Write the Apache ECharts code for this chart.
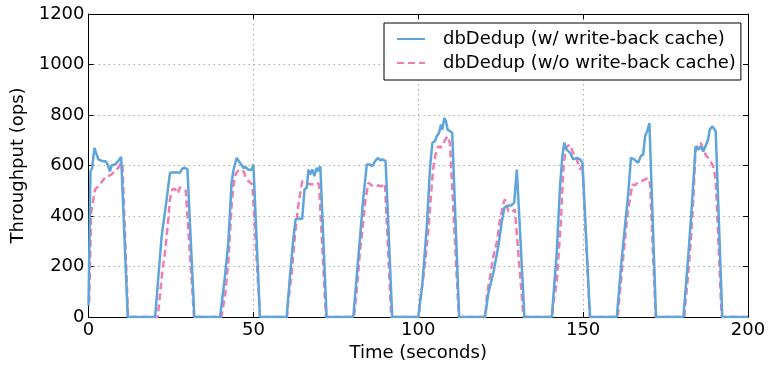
<!DOCTYPE html>
<html>
	<head>
		<title>dbDedup throughput</title>
		<meta charset="utf-8"/>
		<style type="text/css">
			*{margin: 0;padding: 0;}
			html,body{
				width: 771px;
				height: 367px;
				background-color: #fff;
			}
			.chart{
				width: 771px;
				height: 367px;
			}
		</style>
		<script type="text/javascript" src="https://cdn.jsdelivr.net/npm/echarts@6/dist/echarts.min.js"></script>
	</head>
	<body>
		<div class="chart js-chart"></div>
		<script type="text/javascript">
			// 读出来的数据 (秒, ops)
			var blueTime=[0,0.6,1.1,1.8,2.3,3.0,4.2,5.2,5.8,6.5,7.0,8.0,9.0,9.9,10.2,11.9,
				20.2,22.2,22.7,23.7,24.7,25.2,26.2,27.7,28.4,29.2,30.0,32.1,
				39.9,41.4,42.4,43.4,43.9,44.9,45.4,46.5,47.0,47.7,48.5,49.5,50.0,50.3,52.0,
				60.1,61.1,62.1,62.8,63.6,64.8,65.5,66.2,66.7,67.2,67.9,68.5,69.2,69.7,70.3,72.2,
				80.3,82.3,83.3,84.4,85.4,86.1,86.9,87.7,88.4,89.1,90.1,92.1,
				100.0,101.2,102.6,103.6,104.3,105.1,105.6,106.3,106.9,107.3,107.9,108.4,108.9,109.6,110.3,112.4,
				120.2,121.3,122.8,124.3,125.3,126.1,127.1,128.3,129.1,129.9,130.2,132.2,
				140.5,142.0,143.0,143.7,144.3,145.0,146.1,147.0,148.1,149.1,149.8,152.1,
				160.2,161.7,162.9,163.7,164.5,165.5,166.7,167.5,168.2,168.8,169.6,170.1,172.1,
				180.4,181.9,183.1,184.1,184.9,185.7,186.4,187.1,187.9,188.4,189.2,189.8,190.2,192.2,
				200];
			var blueOps=[45,577,590,670,650,624,617,617,604,577,600,604,617,634,630,0,
				0,321,325,466,571,577,573,571,587,591,585,0,
				0,163,295,532,577,630,625,600,590,594,583,583,604,597,0,
				0,163,308,387,389,389,505,513,584,564,584,558,591,577,597,0,
				0,308,466,604,604,597,617,630,621,624,617,0,
				0,124,360,597,690,697,716,729,762,742,788,776,742,736,730,0,
				0,97,176,281,374,433,441,443,453,584,590,0,
				0,255,518,637,690,663,650,624,630,624,611,0,
				0,229,387,492,630,624,611,637,643,716,742,768,0,
				0,242,466,676,663,676,656,676,703,742,755,755,736,0,
				0];
			var pinkTime=[0.2,0.8,1.5,2.0,3.0,4.2,5.2,6.0,7.0,8.0,9.0,9.9,10.3,12.0,
				21.0,22.4,23.2,24.2,24.7,25.4,26.2,27.05,27.7,28.7,29.5,32.0,
				40.3,41.4,42.4,43.4,43.9,44.6,45.6,47.0,48.0,49.0,49.7,52.0,
				60.2,60.6,61.6,62.6,63.6,64.4,64.8,65.8,67.2,68.2,69.2,69.9,72.0,
				80.5,81.3,82.3,83.3,84.0,84.9,85.9,86.9,87.9,88.9,89.9,91.8,
				100.2,100.5,102.0,103.0,104.0,104.5,105.2,106.0,106.7,107.5,108.2,108.8,109.6,112.3,
				120.4,120.8,121.8,122.8,123.8,124.8,125.9,126.3,127.3,128.3,129.3,131.9,
				140.7,140.9,142.0,142.6,143.3,144.0,144.7,146.0,147.0,148.1,149.1,149.8,152.0,
				160.5,160.7,161.7,162.5,163.5,164.2,164.9,165.7,166.7,167.7,168.8,169.6,170.3,172.0,
				180.7,180.9,181.9,182.7,183.4,184.1,184.9,185.7,186.4,187.4,188.4,189.4,190.2,192.0,
				200];
			var pinkOps=[60,414,466,505,518,538,556,558,565,577,591,611,600,0,
				0,183,256,387,466,505,508,489,513,507,500,0,
				0,84,216,440,518,565,583,577,545,532,526,0,
				0,65,171,321,440,505,538,532,526,526,532,526,0,
				0,98,255,374,466,532,521,516,521,518,529,0,
				0,59,203,334,505,584,643,676,670,683,703,716,690,0,
				0,84,163,242,295,387,453,466,420,414,426,0,
				0,50,137,255,387,584,670,683,650,624,584,600,0,
				0,32,176,281,413,466,525,521,534,538,545,551,530,0,
				0,40,176,308,466,663,683,690,663,637,624,597,545,0,
				0];
			var seriesNames=["dbDedup (w/ write-back cache)","dbDedup (w/o write-back cache)"];

			function pairs(t,v){
				var out=[];
				for(var i=0;i<t.length;i++){
					out.push([t[i],v[i]]);
				}
				return out;
			}

			var font="DejaVu Sans";
			var gridLine={show:true,lineStyle:{color:"#aaa",width:1,type:[1.5,3.5]}};
			var tick={show:true,inside:true,length:5,lineStyle:{color:"#000"}};
			var line={show:true,onZero:false,lineStyle:{color:"#000",width:1}};
			var plain=function(v){return String(v);};

			var chart=echarts.init(document.querySelector(".js-chart"));
			chart.setOption({
				animation:false,
				textStyle:{fontFamily:font},
				grid:{left:88.5,right:23,top:14,bottom:49},
				legend:{
					orient:"vertical",
					left:384,
					top:23,
					padding:[6,5,7,12],
					itemWidth:28,
					itemHeight:14,
					itemGap:4,
					borderColor:"#000",
					borderWidth:1,
					borderRadius:0,
					backgroundColor:"#fff",
					itemStyle:{opacity:0},
					textStyle:{fontFamily:font,fontSize:18,color:"#000",lineHeight:20,padding:[0,0,0,13]},
					data:seriesNames
				},
				xAxis:[{
					type:"value",min:0,max:200,interval:50,
					name:"Time (seconds)",nameLocation:"middle",nameGap:27,
					nameTextStyle:{fontFamily:font,fontSize:18,color:"#000"},
					axisLine:line,axisTick:tick,splitLine:gridLine,
					axisLabel:{fontFamily:font,fontSize:18,color:"#000",margin:4,formatter:plain}
				},{
					type:"value",min:0,max:200,interval:50,position:"top",
					axisLine:line,axisTick:tick,splitLine:{show:false},axisLabel:{show:false}
				}],
				yAxis:[{
					type:"value",min:0,max:1200,interval:200,
					name:"Throughput (ops)",nameLocation:"middle",nameGap:54,
					nameTextStyle:{fontFamily:font,fontSize:18,color:"#000"},
					axisLine:line,axisTick:tick,splitLine:gridLine,
					axisLabel:{fontFamily:font,fontSize:18,color:"#000",margin:4,formatter:plain}
				},{
					type:"value",min:0,max:1200,interval:200,position:"right",
					axisLine:line,axisTick:tick,splitLine:{show:false},axisLabel:{show:false}
				}],
				series:[{
					name:seriesNames[0],
					type:"line",
					symbol:"none",
					z:3,
					lineStyle:{color:"#5DA5DA",width:2.5},
					itemStyle:{color:"#5DA5DA"},
					data:pairs(blueTime,blueOps)
				},{
					name:seriesNames[1],
					type:"line",
					symbol:"none",
					z:2,
					lineStyle:{color:"#F17CB0",width:2.5,type:[7,4]},
					itemStyle:{color:"#F17CB0"},
					data:pairs(pinkTime,pinkOps)
				}]
			});
		</script>
	</body>
</html>
